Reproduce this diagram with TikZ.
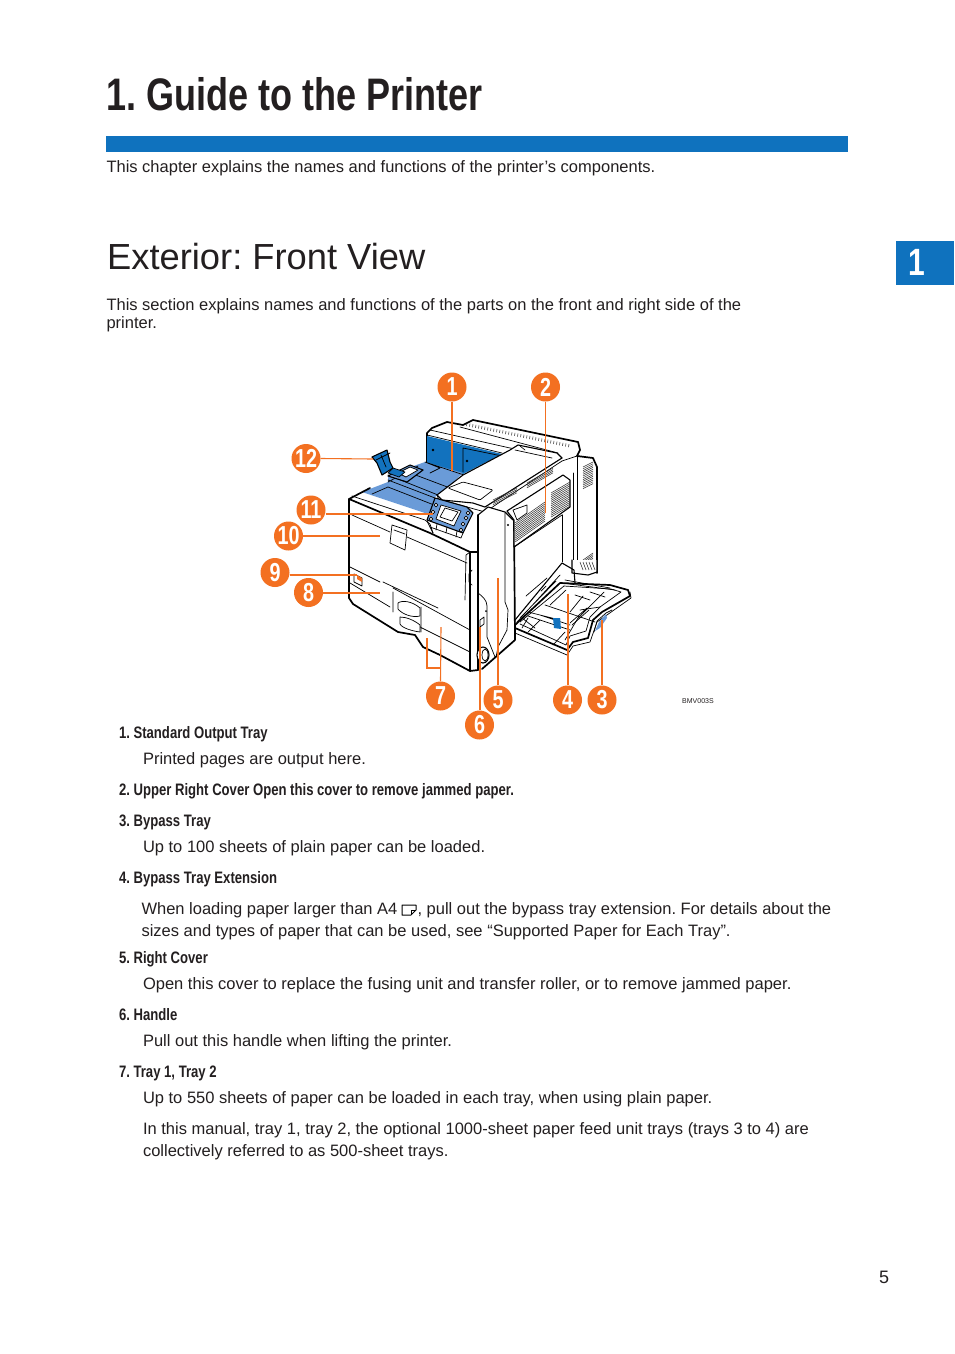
\documentclass[tikz,border=0pt]{standalone}
\usepackage{fontspec}
\setmainfont{Liberation Sans}
\newfontfamily\condf[FakeStretch=0.79]{Liberation Sans}
\newfontfamily\condg[FakeStretch=0.76]{Liberation Sans}
\definecolor{orng}{HTML}{F37021}
\definecolor{bluebar}{HTML}{0F72BE}
\definecolor{bluedark}{HTML}{1272BE}
\definecolor{bluelight}{HTML}{6A9BD8}
\definecolor{txt}{HTML}{231F20}
\newcommand{\bodyfs}{\fontsize{16.5}{20}\selectfont}
\newcommand{\headfs}{\condf\bfseries\fontsize{16.6}{20}\selectfont}
\frenchspacing
\tikzset{
  x=1pt,y=-1pt,
  bodytext/.style={anchor=base west,inner sep=0pt,outer sep=0pt,text=txt,font=\bodyfs},
  headtext/.style={anchor=base west,inner sep=0pt,outer sep=0pt,text=txt,font=\headfs},
  callout/.style={circle,fill=orng,draw=none,minimum size=29pt,inner sep=0pt,text=white,font=\condg\bfseries\fontsize{26}{26}\selectfont},
  lead/.style={draw=orng,line width=2pt},
  leadthin/.style={draw=orng,line width=1.1pt},
  ol/.style={draw=black,line width=1.7pt,line join=round,line cap=round},
  il/.style={draw=black,line width=0.7pt,line join=round,line cap=round},
  ml/.style={draw=black,line width=1.1pt,line join=round,line cap=round},
  vent/.style={draw=black!80,line width=0.55pt},
}
\begin{document}
\begin{tikzpicture}
\useasboundingbox (0,0) rectangle (954,1354);
\fill[white] (0,0) rectangle (954,1354);
% page furniture
\node[anchor=base west,inner sep=0pt,text=txt,font=\condf\bfseries\fontsize{45.6}{50}\selectfont] (title) at (106.5,110) {1. Guide to the Printer};
\fill[bluebar] (106,136) rectangle (848,152);
\node[bodytext] (intro) at (106.5,172) {This chapter explains the names and functions of the printer’s components.};
\node[anchor=base west,inner sep=0pt,text=txt,font=\fontsize{36.3}{42}\selectfont] (sect) at (107,269.5) {Exterior: Front View};
\node[bodytext] (p1) at (106.5,310) {This section explains names and functions of the parts on the front and right side of the};
\node[bodytext] (p2) at (106.5,328) {printer.};
\fill[bluebar] (896,241) rectangle (954,285);
\node[anchor=base,inner sep=0pt,text=white,font=\condf\bfseries\fontsize{38}{38}\selectfont] (tab) at (917,275) {1};
\node[anchor=base west,inner sep=0pt,text=txt,font=\fontsize{7}{8}\selectfont] (code) at (682,703) {BMV003S};

% ---------- printer -----------
% rear body
\fill[white] (427,462) -- (427,435) -- (440,424) -- (473,420) -- (578,442) -- (597,467) -- (597,573) -- (570,568) -- (500,520) -- cycle;
\draw[ol] (427,462) -- (427,433) -- (432,428) -- (447,422) -- (463,425) -- (473,420) -- (578,442) -- (580,450) -- (577,456) -- (593,458) -- (597,467) -- (597,573);
\fill[bluedark] (427,436) -- (502,454) -- (463,474) -- (427,463) -- cycle;
\draw[il] (427,435) -- (502,453);
\draw[il] (463,448) -- (463,472) (463,448) -- (502,456);
\fill (433,450) circle (1.4) (467,461) circle (1.4);
\draw[il] (430,430) -- (510,448) (460,427) -- (558,453) (510,448) -- (562,458);
\foreach \i in {0,...,34}{\draw[vent] ({467+\i*3},{423+\i*0.62}) -- ({466.5+\i*3},{426+\i*0.62});}
% right rear details
\draw[il] (577,456) -- (577,565) (562,515) -- (562,562) (573,473) -- (573,566);
\draw[il] (562,461) -- (577,456);
\foreach \i in {0,...,12}{\draw[vent] (583,{467+\i*1.8}) -- (593,{462+\i*1.8});}
\foreach \i in {0,...,6}{\draw[vent] (583,{560+\i*1.7}) -- (593,{553+\i*1.7});}
% blue top
\fill[bluelight] (362,492) -- (388,482) -- (388,475) -- (425,462) -- (463,473) -- (445,490) -- (435,497) -- (430,513) -- (425,513) -- cycle;
\draw[il] (388,482) -- (418,466) (372,494) -- (388,487) -- (434,505)
 (388,475) -- (438,495) (425,462) -- (470,477) (405,471) -- (450,488) (415,468) -- (423,470)
 (388,480) -- (435,498) (425,462) -- (440,468) -- (430,473);
% stack stopper (12) and mechanism
\draw[ml,fill=bluelight] (388,476) -- (410,465) -- (423,470) -- (407,482) -- cycle;
\draw[il,fill=white] (398,473) -- (410,467) -- (418,470) -- (406,477) -- cycle;
\draw[il,fill=bluedark] (393,468) -- (405,472) -- (399,477) -- (388,473) -- cycle;
\draw[ml,fill=bluedark] (372,457) -- (387,450) -- (390,462) -- (393,468) -- (382,475) -- (377,463) -- cycle;
\draw[il] (381,455) -- (386,467) (376,460) -- (390,453);
% front face
\draw[ol,fill=white] (349,499) -- (349,598) -- (353,604) -- (398,632) -- (415,635) -- (423,647) -- (440,655) -- (470,671) -- (478,670) -- (478,552) -- (470,552) -- (430,533) -- cycle;
\draw[ol] (349,499) -- (370,488);
\draw[il] (352,496) -- (425,520) -- (430,524) -- (433,533);
\draw[il] (352,515) -- (390,532) (407,537) -- (467,563);
\draw[il,fill=white] (392,525) -- (407,530) -- (405,550) -- (390,543) -- cycle;
\draw[il] (394,530) -- (405,534);
\draw[ml] (470,552) -- (470,670);
\draw[il] (466,555) -- (470,552) (466,555) -- (465,600) (472,570) -- (469,574) -- (469,582) -- (472,585);
% tray lines
\draw[il] (350,567) -- (380,582) (383,582) -- (438,608) (350,583) -- (390,607) (393,588) -- (470,630)
 (420,627) -- (470,652) (393,592) -- (393,612) (421,607) -- (421,632);
% tray handles
\draw[il,fill=white] (398,603) .. controls (402,600) and (412,601) .. (420,608) -- (420,616) .. controls (412,618) and (402,614) .. (398,609) -- cycle;
\draw[il,fill=white] (400,617) .. controls (406,617) and (414,620) .. (420,625) -- (420,632) .. controls (412,631) and (402,628) .. (400,624) -- cycle;
% paper-jam indicator
\draw[il,fill=white] (354,574) -- (362,578) -- (362,586) -- (354,582) -- cycle;
\fill[orng] (357,575) -- (362,578) -- (362,582) -- (357,579) -- cycle;
% top cover
\draw[ml,fill=white] (437,495) -- (463,475) -- (510,450) -- (518,445) -- (557,453) -- (562,458) -- (485,507) -- (473,503) -- (442,500) -- cycle;
\draw[il] (442,500) -- (485,512) -- (562,461) (437,495) -- (440,503);
\draw[il,rounded corners=1pt] (448,488) -- (463,482) -- (493,490) -- (480,500) -- cycle;
\draw[il] (515,450) -- (552,458) (520,446) -- (525,450);
% control panel
\draw[ml,fill=bluelight] (435,498) -- (467,507) -- (473,513) -- (463,533) -- (427,520) -- cycle;
\draw[il,fill=white] (441,505) -- (461,511) -- (454,526) -- (436,519) -- cycle;
\draw[il] (445,508) -- (458,512) -- (452,521) -- (440,517) -- cycle;
\foreach \p in {(436,505),(433,512),(431,519),(468,513),(466,518),(463,524),(461,530)}{\draw[il,fill=white] \p circle (1.8);}
\draw[il] (427,521) -- (433,533) (437,524) -- (436,530) (447,527) -- (446,533) (457,531) -- (456,537);
\draw[il] (463,533) -- (461,538) -- (430,527);
% right side cover
\fill[white] (478,515) -- (488,507) -- (505,512) -- (514,521) -- (515,640) -- (485,669) -- (478,670) -- cycle;
\draw[ml] (478,515) -- (488,507) -- (505,512) -- (513,520);
\draw[ol] (478,515) -- (478,670) (514,520) -- (515,640) -- (482,669);
\draw[il] (478,593) .. controls (482,596) and (487,600) .. (487,606) -- (487,637) -- (495,657);
\draw[il] (505,513) -- (505,602) -- (508,610) -- (507,630) -- (498,647) -- (496,657);
\draw[il,fill=white] (480,620) -- (484,617) -- (484,624) -- (480,627) -- cycle;
\fill (486,611) circle (1);
\fill (508,525) circle (1.2);
% wheel
\draw[ml,fill=white] (483,655) circle (6 and 8);
\draw[il] (485,655) circle (3 and 6);
% upper right cover with vents
\draw[ml,fill=white] (507,511) -- (563,475) -- (570,480) -- (570,507) -- (514,547) -- (514,520) -- cycle;
\foreach \i in {0,...,10}{\draw[vent] (515,{523+\i*1.9}) -- (545,{502+\i*1.9});}
\foreach \i in {0,...,13}{\draw[vent] (551,{493+\i*1.85}) -- (570,{482+\i*1.85});}
\foreach \i in {0,...,3}{\draw[vent] (493,{500+\i*1.6}) -- (517,{488+\i*1.6}) (527,{483+\i*1.6}) -- (553,{468+\i*1.6});}
\draw[il,fill=white] (513,510) -- (527,505) -- (527,513) -- (517,520) -- cycle;
\draw[il] (514,547) -- (562,515);
% open jam area
\draw[il] (562,515) -- (562,560);
% bypass hinge
\draw[ml,fill=white] (572,560) -- (572,573) -- (588,575) -- (597,572) -- (597,560);
\foreach \i in {0,...,4}{\draw[vent] ({580+\i*3},562) -- ({583+\i*3},570);}
% bypass tray
\draw[ol,fill=white] (515,625) -- (560,583) -- (610,585) -- (628,590) -- (630,596) -- (602,612) -- (593,620) -- (588,638) -- (573,642) -- (567,650) -- (515,628) -- cycle;
\draw[ml] (515,620) -- (562,563) -- (574,570) -- (575,583);
\draw[il] (515,620) -- (515,633) -- (567,655) -- (573,646) -- (590,642) -- (597,622) -- (631,598) -- (630,592);
\draw[il] (517,622) -- (560,575) (520,618) -- (556,581) (526,596) -- (547,578) (541,591) -- (546,586);
\draw[il] (564,586) -- (611,589) -- (621,592) -- (600,607) -- (590,617) -- (586,631) -- (570,636) -- (566,645) -- (520,624);
\draw[il] (564,586) -- (520,622);
\draw[il] (565,580) -- (610,588) (562,583) -- (615,590) (566,590) -- (550,605) (583,596) -- (570,612) (587,608) -- (570,623) (589,610) -- (572,625) (604,592) -- (578,618);
\draw[il] (528,612) -- (560,620) (528,616) -- (570,630) (540,615) -- (570,625) (522,618) -- (535,628);
\draw[il] (528,618) -- (522,628) (540,620) -- (528,632) (565,632) -- (553,645) (578,618) -- (565,640);
\draw[il] (545,605) -- (595,622) (580,610) -- (600,607) (575,595) -- (590,600) (590,592) -- (605,597);
% tray blue parts
\fill[bluedark] (553,618) -- (560,618) -- (561,629) -- (554,628) -- cycle;
\fill[bluelight] (606,614) -- (599,622) -- (595,631) -- (600,628) -- (607,618) -- cycle;
\draw[il] (594,632) -- (597,621) -- (606,613) -- (612,610);

% ---------- callouts -----------
\node[callout] (c1) at (452,387) {1};
\node[callout] (c2) at (545.5,387) {2};
\node[callout] (c3) at (602,700) {3};
\node[callout] (c4) at (567.5,700) {4};
\node[callout] (c5) at (498,700) {5};
\node[callout] (c6) at (479.5,725) {6};
\node[callout] (c7) at (440.5,696) {7};
\node[callout] (c8) at (308.5,592.5) {8};
\node[callout] (c9) at (275,572.5) {9};
\node[callout] (c10) at (288.5,536) {10};
\node[callout] (c11) at (311,510) {11};
\node[callout] (c12) at (306,458.5) {12};
\coordinate (e1) at (452,471);
\coordinate (e2) at (545.5,513);
\coordinate (e3) at (602,620);
\coordinate (e4) at (567.5,594);
\coordinate (e5) at (498,578);
\coordinate (e6) at (479.5,627);
\coordinate (e7) at (441,627);
\coordinate (b7a) at (441,668);
\coordinate (b7b) at (427,668);
\coordinate (b7c) at (427,638);
\coordinate (e8) at (380,592.5);
\coordinate (e9) at (357,575);
\coordinate (e10) at (380,536);
\coordinate (e11) at (433,514);
\coordinate (e12) at (373,459);
\draw[lead] (c1.south) -- (e1);
\draw[leadthin] (c2.south) -- (e2);
\draw[leadthin] (c3.north) -- (e3);
\draw[lead] (c4.north) -- (e4);
\draw[lead] (c5.north) -- (e5);
\draw[lead] (c6.north) -- (e6);
\draw[leadthin] (c7.north) -- (e7);
\draw[lead] (b7a) -- (b7b) -- (b7c);
\draw[lead] (c8.east) -- (e8);
\draw[lead] (c9.east |- e9) -- (e9);
\draw[lead] (c10.east) -- (e10);
\draw[lead] (c11.east |- e11) -- (e11);
\draw[leadthin] (c12.east) -- (e12);

% ---------- list -----------
\node[headtext] (h1) at (119,738) {1. Standard Output Tray};
\node[bodytext] (t1) at (143,764) {Printed pages are output here.};
\node[headtext] (h2) at (119,795) {2. Upper Right Cover Open this cover to remove jammed paper.};
\node[headtext] (h3) at (119,826) {3. Bypass Tray};
\node[bodytext] (t3) at (143,852) {Up to 100 sheets of plain paper can be loaded.};
\node[headtext] (h4) at (119,883) {4. Bypass Tray Extension};
\node[bodytext] (t4a) at (141.5,914) {When loading paper larger than A4};
\node[bodytext] (t4b) at (417.5,914) {, pull out the bypass tray extension. For details about the};
\node[bodytext] (t4c) at (141.5,936) {sizes and types of paper that can be used, see “Supported Paper for Each Tray”.};
\draw[black,line width=1pt,line join=round] (402,905) -- (416,905) -- (416,910) -- (411,915) -- (402,915) -- cycle;
\draw[black,line width=0.8pt] (416,910) -- (411,910) -- (411,915);
\node[headtext] (h5) at (119,963) {5. Right Cover};
\node[bodytext] (t5) at (143,989) {Open this cover to replace the fusing unit and transfer roller, or to remove jammed paper.};
\node[headtext] (h6) at (119,1020) {6. Handle};
\node[bodytext] (t6) at (143,1046) {Pull out this handle when lifting the printer.};
\node[headtext] (h7) at (119,1077) {7. Tray 1, Tray 2};
\node[bodytext] (t7) at (143,1103) {Up to 550 sheets of paper can be loaded in each tray, when using plain paper.};
\node[bodytext] (t7a) at (143,1134) {In this manual, tray 1, tray 2, the optional 1000-sheet paper feed unit trays (trays 3 to 4) are};
\node[bodytext] (t7b) at (143,1156) {collectively referred to as 500-sheet trays.};
\node[bodytext,font=\fontsize{18}{20}\selectfont] (pg) at (879,1283) {5};
\end{tikzpicture}
\end{document}
